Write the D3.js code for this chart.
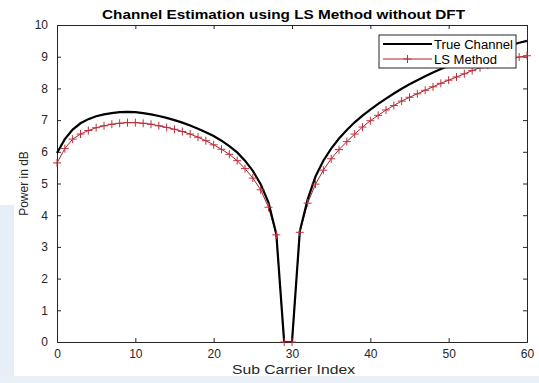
<!DOCTYPE html>
<html>
<head>
<meta charset="utf-8">
<script src="https://cdn.jsdelivr.net/npm/d3@7"></script>
<style>
  body { margin: 0; background: #fff; }
  svg { display: block; font-family: "Liberation Sans", Arial, sans-serif; }
</style>
</head>
<body>
<div id="chart"></div>
<script>
// sub carrier index 0..60
const subCarriers = d3.range(0, 61);

const trueChannel = [5.96, 6.4, 6.7, 6.9, 7.03, 7.12, 7.18, 7.22, 7.25, 7.26, 7.25, 7.22, 7.18, 7.13, 7.07, 7.0, 6.92, 6.83, 6.73, 6.62, 6.5,
  6.35, 6.18, 5.98, 5.72, 5.4, 4.98, 4.4, 3.4, 0, 0,
  3.5, 4.5, 5.22, 5.72, 6.1, 6.42, 6.69, 6.93, 7.14, 7.33, 7.51, 7.68, 7.84, 7.99, 8.13, 8.26, 8.38, 8.5, 8.61, 8.71,
  8.81, 8.9, 8.99, 9.07, 9.15, 9.23, 9.3, 9.37, 9.44, 9.5];

const lsMethod = [5.65, 6.1, 6.4, 6.56, 6.67, 6.76, 6.82, 6.87, 6.9, 6.92, 6.92, 6.9, 6.87, 6.82, 6.77, 6.71, 6.64, 6.56, 6.46, 6.35, 6.22,
  6.08, 5.92, 5.72, 5.47, 5.17, 4.8, 4.25, 3.38, 0, 0,
  3.46, 4.38, 4.98, 5.42, 5.78, 6.07, 6.32, 6.56, 6.78, 6.98, 7.15, 7.32, 7.46, 7.6, 7.72, 7.83, 7.94, 8.05, 8.16, 8.26,
  8.36, 8.46, 8.56, 8.65, 8.73, 8.81, 8.88, 8.94, 8.99, 9.03];

const xTicks = [0, 10, 20, 30, 40, 50, 60];
const yTicks = [0, 1, 2, 3, 4, 5, 6, 7, 8, 9, 10];

const width = 539, height = 383;
const margin = { top: 25, right: 12, bottom: 41, left: 57 };

const svg = d3.select("#chart").append("svg")
    .attr("width", width)
    .attr("height", height);

// faint page background around the figure
svg.append("rect").attr("width", width).attr("height", height).attr("fill", "#fff");
svg.append("rect").attr("x", 0).attr("y", 205).attr("width", 14).attr("height", 178).attr("fill", "#e6eef7");
svg.append("rect").attr("x", 0).attr("y", 376).attr("width", width).attr("height", 7).attr("fill", "#eaf0f7");

const x = d3.scaleLinear().domain([0, 60]).range([margin.left, width - margin.right]);
const y = d3.scaleLinear().domain([0, 10]).range([height - margin.bottom, margin.top]);

const plot = svg.append("g");

plot.append("rect")
    .attr("x", x(0)).attr("y", y(10))
    .attr("width", x(60) - x(0)).attr("height", y(0) - y(10))
    .attr("fill", "#fff");

// axes (MATLAB style: ticks inside, box on)
const tickCol = "#262626";
const bottomAxis = plot.append("g")
    .attr("transform", `translate(0,${y(0)})`)
    .call(d3.axisBottom(x).tickValues(xTicks).tickSize(-4).tickPadding(9));
const leftAxis = plot.append("g")
    .attr("transform", `translate(${x(0)},0)`)
    .call(d3.axisLeft(y).tickValues(yTicks).tickSize(-4).tickPadding(9));
const topAxis = plot.append("g")
    .attr("transform", `translate(0,${y(10)})`)
    .call(d3.axisTop(x).tickValues(xTicks).tickSize(-4).tickFormat(""));
const rightAxis = plot.append("g")
    .attr("transform", `translate(${x(60)},0)`)
    .call(d3.axisRight(y).tickValues(yTicks).tickSize(-4).tickFormat(""));

[bottomAxis, leftAxis, topAxis, rightAxis].forEach(a => {
    a.selectAll("path").attr("stroke", tickCol).attr("stroke-width", 1);
    a.selectAll("line").attr("stroke", tickCol);
    a.selectAll("text").attr("fill", tickCol).style("font-size", "12px")
        .style("font-family", "'Liberation Sans', Arial, sans-serif");
});
bottomAxis.selectAll("text").attr("dy", "0.6em");

// LS method line + '+' markers
const line = d3.line().x((d, i) => x(subCarriers[i])).y(d => y(d));

plot.append("path")
    .datum(lsMethod)
    .attr("fill", "none")
    .attr("stroke", "#a8232f")
    .attr("stroke-width", 1)
    .attr("d", line);

// true channel
plot.append("path")
    .datum(trueChannel)
    .attr("fill", "none")
    .attr("stroke", "#000")
    .attr("stroke-width", 2.2)
    .attr("d", line);

const mk = 4;
const markers = plot.append("g").attr("stroke", "#c0303a").attr("stroke-width", 1);
lsMethod.forEach((v, i) => {
    const cx = x(subCarriers[i]), cy = y(v);
    markers.append("line").attr("x1", cx - mk).attr("x2", cx + mk).attr("y1", cy).attr("y2", cy);
    markers.append("line").attr("x1", cx).attr("x2", cx).attr("y1", cy - mk).attr("y2", cy + mk);
});

// legend
const lg = svg.append("g").attr("transform", "translate(379,35)");
lg.append("rect").attr("width", 137).attr("height", 33)
    .attr("fill", "#fff").attr("stroke", "#262626").attr("stroke-width", 1);
lg.append("line").attr("x1", 4).attr("x2", 53).attr("y1", 9).attr("y2", 9)
    .attr("stroke", "#000").attr("stroke-width", 2.2);
lg.append("text").attr("x", 55).attr("y", 13.5).text("True Channel")
    .attr("textLength", 79).attr("lengthAdjust", "spacingAndGlyphs")
    .style("font-size", "12px").attr("fill", "#000");
lg.append("line").attr("x1", 4).attr("x2", 53).attr("y1", 24).attr("y2", 24)
    .attr("stroke", "#a8232f").attr("stroke-width", 1);
lg.append("line").attr("x1", 28.5 - mk).attr("x2", 28.5 + mk).attr("y1", 24).attr("y2", 24)
    .attr("stroke", "#c0303a");
lg.append("line").attr("x1", 28.5).attr("x2", 28.5).attr("y1", 24 - mk).attr("y2", 24 + mk)
    .attr("stroke", "#c0303a");
lg.append("text").attr("x", 55).attr("y", 28.5).text("LS Method")
    .attr("textLength", 63).attr("lengthAdjust", "spacingAndGlyphs")
    .style("font-size", "12px").attr("fill", "#000");

// title and axis labels
svg.append("text")
    .attr("x", 102).attr("y", 19)
    .attr("textLength", 363).attr("lengthAdjust", "spacingAndGlyphs")
    .style("font-size", "13.5px").style("font-weight", "bold")
    .text("Channel Estimation using LS Method without DFT");

svg.append("text")
    .attr("x", 232).attr("y", 374)
    .attr("textLength", 123).attr("lengthAdjust", "spacingAndGlyphs")
    .style("font-size", "13px").attr("fill", tickCol)
    .text("Sub Carrier Index");

svg.append("text")
    .attr("transform", `translate(28,${(y(0) + y(10)) / 2}) rotate(-90)`)
    .attr("text-anchor", "middle")
    .style("font-size", "12px").attr("fill", tickCol)
    .text("Power in dB");
</script>
</body>
</html>
